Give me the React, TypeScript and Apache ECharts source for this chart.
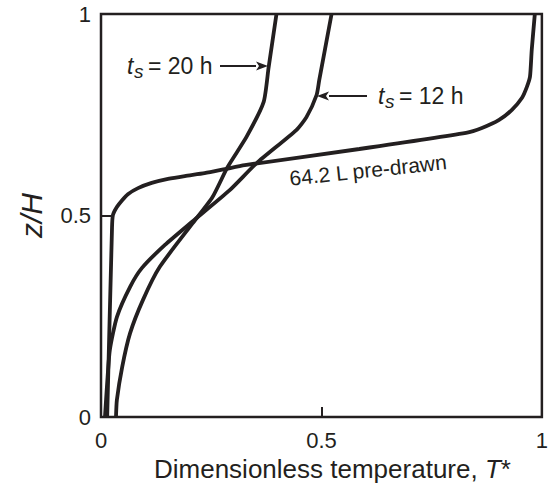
import React, { useEffect, useRef } from "react";
import * as echarts from "echarts";

const INK = "#231f20";
const FONT = "'Liberation Sans', Arial, Helvetica, sans-serif";

// [T*, z/H]
const preDrawn: [number, number][] = [
  [0.014, 0], [0.025, 0.47], [0.027, 0.501], [0.036, 0.521], [0.048, 0.538],
  [0.061, 0.553], [0.084, 0.568], [0.115, 0.581], [0.152, 0.591], [0.19, 0.598],
  [0.235, 0.605], [0.281, 0.615], [0.326, 0.625], [0.586, 0.665], [0.828, 0.705],
  [0.864, 0.717], [0.903, 0.737], [0.932, 0.762], [0.955, 0.792], [0.966, 0.819],
  [0.973, 0.844], [0.977, 0.911], [0.984, 1.0],
];

const ts20h: [number, number][] = [
  [0.034, 0], [0.036, 0.042], [0.048, 0.124], [0.066, 0.208], [0.095, 0.29],
  [0.133, 0.372], [0.208, 0.481], [0.253, 0.546], [0.287, 0.62], [0.33, 0.695],
  [0.369, 0.782], [0.38, 0.866], [0.398, 1.0],
];

const ts12h: [number, number][] = [
  [0.009, 0], [0.014, 0.084], [0.02, 0.166], [0.036, 0.248], [0.066, 0.323],
  [0.093, 0.37], [0.145, 0.427], [0.206, 0.484], [0.292, 0.563], [0.353, 0.63],
  [0.443, 0.712], [0.466, 0.744], [0.489, 0.799], [0.495, 0.836], [0.523, 1.0],
];

const seriesNames = ["64.2 L pre-drawn", "ts = 20 h", "ts = 12 h"];
const xTitle = "Dimensionless temperature, ";
const yTitle = "z/H";

function arrow(x1: number, x2: number, y: number) {
  const dir = x2 > x1 ? 1 : -1;
  const headLen = 12;
  const hw = 4.5;
  return [
    {
      type: "line",
      shape: { x1, y1: y, x2: x2 - dir * headLen, y2: y },
      style: { stroke: INK, lineWidth: 1.8 },
      silent: true,
    },
    {
      type: "polygon",
      shape: {
        points: [
          [x2, y],
          [x2 - dir * headLen, y - hw],
          [x2 - dir * headLen * 0.75, y],
          [x2 - dir * headLen, y + hw],
        ],
      },
      style: { fill: INK },
      silent: true,
    },
  ];
}

function tsLabel(x: number, yMid: number, rest: string) {
  return [
    {
      type: "text",
      x,
      y: yMid,
      style: { text: "t", font: `italic 23px ${FONT}`, fill: INK, align: "left", verticalAlign: "middle" },
      silent: true,
    },
    {
      type: "text",
      x: x + 7,
      y: yMid + 5,
      style: { text: "s", font: `italic 19px ${FONT}`, fill: INK, align: "left", verticalAlign: "middle" },
      silent: true,
    },
    {
      type: "text",
      x: x + 21,
      y: yMid,
      style: { text: rest, font: `23px ${FONT}`, fill: INK, align: "left", verticalAlign: "middle" },
      silent: true,
    },
  ];
}

export default function App() {
  const ref = useRef<HTMLDivElement>(null);

  useEffect(() => {
    if (!ref.current) return;
    const chart = echarts.init(ref.current, undefined, { renderer: "svg" });
    const lineSeries = (name: string, data: [number, number][]) => ({
      type: "line",
      name,
      data,
      showSymbol: false,
      symbol: "none",
      smooth: 0.2,
      lineStyle: { color: INK, width: 3.8 },
      clip: true,
      silent: true,
    });
    chart.setOption({
      animation: false,
      backgroundColor: "#ffffff",
      grid: {
        left: 101,
        right: 8,
        top: 14,
        bottom: 70,
        show: true,
        borderColor: INK,
        borderWidth: 2.5,
        backgroundColor: "transparent",
      },
      xAxis: {
        type: "value",
        min: 0,
        max: 1,
        interval: 0.5,
        axisLine: { show: false },
        axisTick: { show: true, inside: true, length: 10, lineStyle: { color: INK, width: 2 } },
        splitLine: { show: false },
        axisLabel: { color: INK, fontSize: 22, fontFamily: FONT, margin: 12 },
        name: xTitle + "{i|T}*",
        nameLocation: "middle",
        nameGap: 37,
        nameTextStyle: {
          color: INK,
          fontSize: 26,
          fontFamily: FONT,
          padding: [0, 0, 0, 22],
          rich: { i: { fontStyle: "italic", fontSize: 26, fontFamily: FONT, color: INK } },
        },
      },
      yAxis: {
        type: "value",
        min: 0,
        max: 1,
        interval: 0.5,
        axisLine: { show: false },
        axisTick: { show: true, inside: true, length: 10, lineStyle: { color: INK, width: 2 } },
        splitLine: { show: false },
        axisLabel: { color: INK, fontSize: 22, fontFamily: FONT, margin: 10 },
        name: yTitle,
        nameLocation: "middle",
        nameGap: 55,
        nameTextStyle: { color: INK, fontSize: 30, fontFamily: FONT, fontStyle: "italic" },
      },
      series: [
        lineSeries(seriesNames[0], preDrawn),
        lineSeries(seriesNames[1], ts20h),
        lineSeries(seriesNames[2], ts12h),
      ],
      graphic: [
        ...tsLabel(127, 66, "= 20 h"),
        ...arrow(220, 268, 66),
        ...tsLabel(378, 96, "= 12 h"),
        ...arrow(367, 317, 96),
        {
          type: "text",
          x: 368,
          y: 170,
          rotation: (6.1 * Math.PI) / 180,
          style: {
            text: "64.2 L pre-drawn",
            font: `21px ${FONT}`,
            fill: INK,
            align: "center",
            verticalAlign: "middle",
          },
          silent: true,
        },
      ],
    });
    return () => chart.dispose();
  }, []);

  return (
    <div
      ref={ref}
      style={{ position: "fixed", left: 0, top: 0, width: 551, height: 487, background: "#fff" }}
    />
  );
}
